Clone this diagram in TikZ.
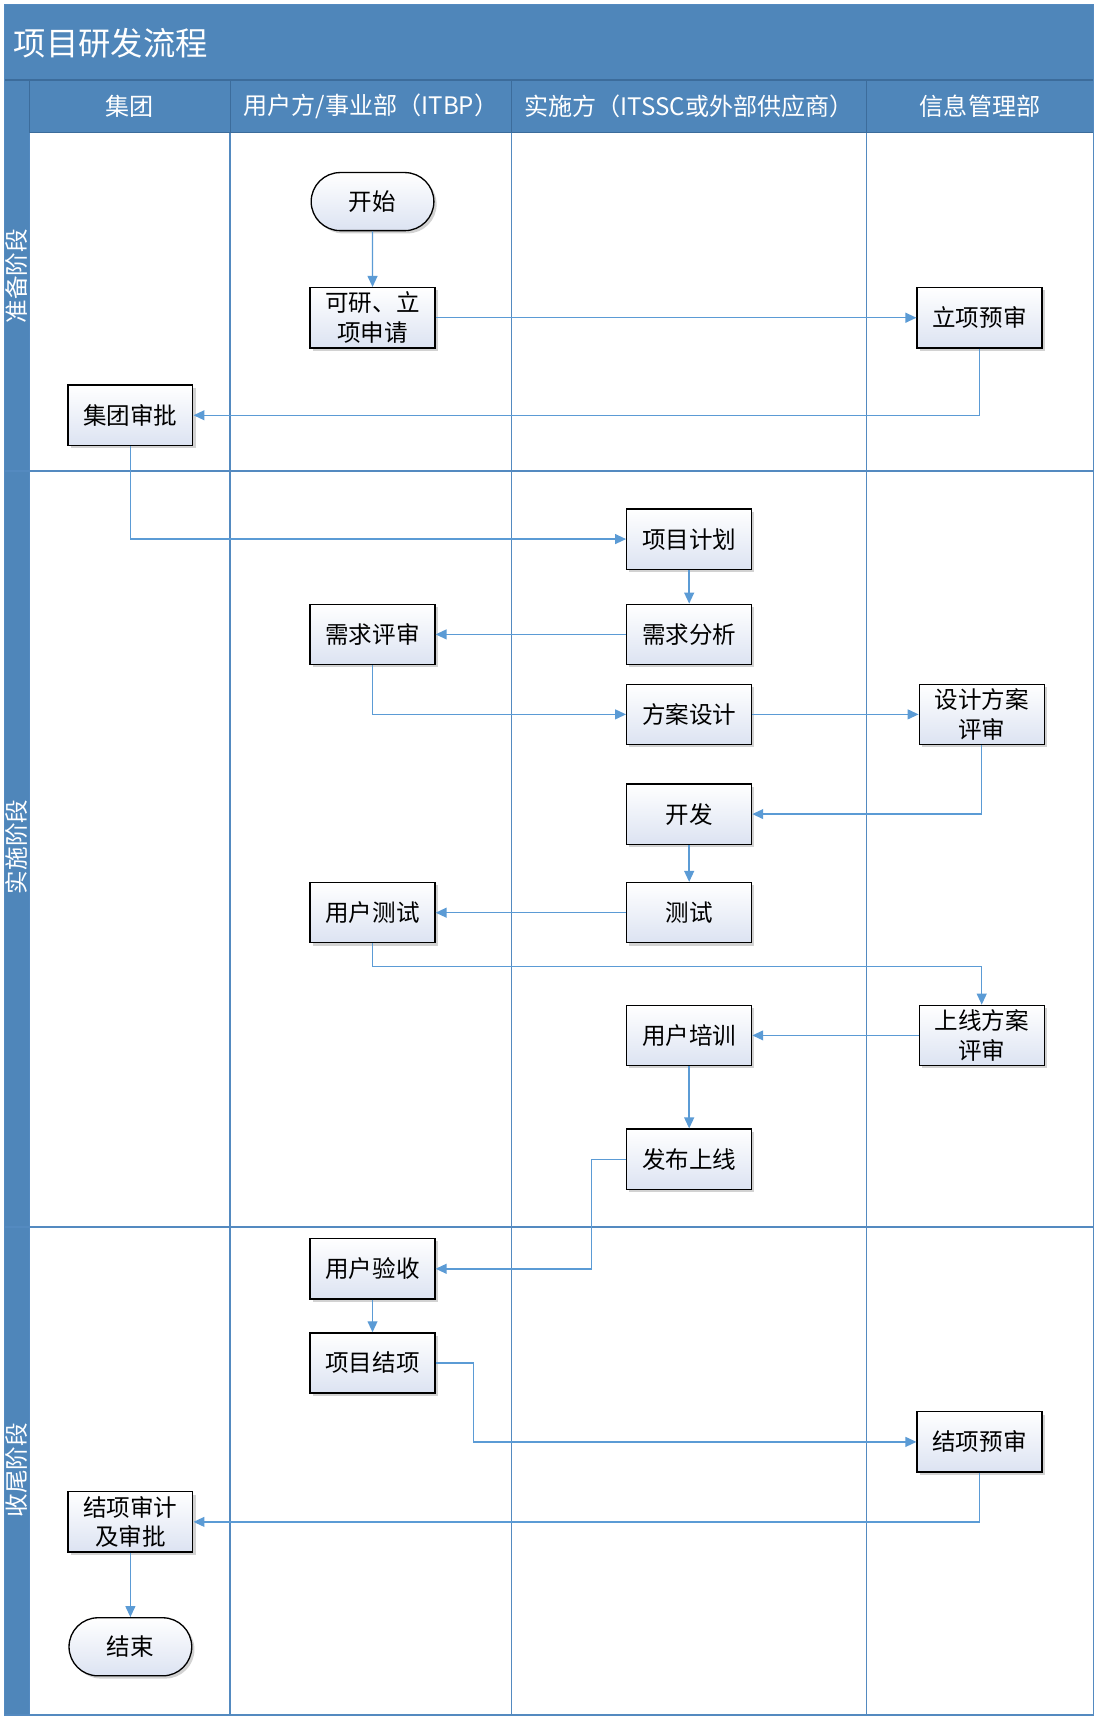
\documentclass[tikz,border=0pt]{standalone}
\usepackage{fontspec}
\setmainfont{Noto Sans CJK SC}
\usetikzlibrary{arrows.meta,shadows,shapes.misc}
\definecolor{hdr}{RGB}{79,134,186}
\definecolor{hdrline}{RGB}{60,108,155}
\definecolor{lane}{RGB}{84,138,192}
\definecolor{arr}{RGB}{91,155,213}
\definecolor{boxbot}{RGB}{220,227,242}
\begin{document}
\begin{tikzpicture}[x=1pt,y=-1pt,
  proc/.style={draw=black, line width=1.2pt, minimum width=114pt, minimum height=55pt,
    top color=white, bottom color=boxbot,
    drop shadow={opacity=0.35, shadow xshift=2.5pt, shadow yshift=-2.5pt},
    font=\fontsize{21.5}{27}\selectfont, align=center, inner sep=1pt, text=black},
  term/.style={proc, rounded rectangle, minimum height=53pt},
  flow/.style={draw=arr, line width=1.3pt, -{Triangle[length=10pt,width=9pt]}},
  hdrtext/.style={text=white, font=\fontsize{22}{26}\selectfont},
  phasetext/.style={text=white, rotate=90, font=\fontsize{21.5}{24}\selectfont},
  laneline/.style={draw=lane, line width=1.4pt},
  hdrsep/.style={draw=hdrline, line width=1pt}
]
\useasboundingbox (0,0) rectangle (1001,1568);
\fill[white] (0,0) rectangle (1001,1568);
% header areas
\fill[hdr] (4,4) rectangle (998,121);
\fill[hdr] (4,121) rectangle (27,1565);
\draw[hdrsep] (4,73) -- (998,73);
\foreach \x in {27,210,467,791} \draw[hdrsep] (\x,73) -- (\x,121);
\draw[hdrsep] (27,121) -- (998,121);
% lanes
\foreach \x in {27,210,467,791} \draw[laneline] (\x,121) -- (\x,1565);
\foreach \y in {430,1120} \draw[laneline] (4,\y) -- (998,\y);
\draw[lane, line width=1.6pt] (4,4) rectangle (998,1565);
% title and headers
\node[anchor=west, text=white, font=\fontsize{29.5}{32}\selectfont] (title) at (9,39) {项目研发流程};
\node[hdrtext] (h1) at (118.5,97) {集团};
\node[hdrtext] (h2) at (338.5,97) {用户方/事业部（ITBP）};
\node[hdrtext] (h3) at (629,97) {实施方（ITSSC或外部供应商）};
\node[hdrtext] (h4) at (894.5,97) {信息管理部};
\node[phasetext] (p1) at (15.5,252) {准备阶段};
\node[phasetext] (p2) at (15.5,773) {实施阶段};
\node[phasetext] (p3) at (15.5,1342) {收尾阶段};
% nodes
\node[term] (start) at (340,184) {开始};
\node[proc] (kyan) at (340,290) {可研、立\\项申请};
\node[proc] (lxys) at (894,290) {立项预审};
\node[proc] (jtsp) at (119,379) {集团审批};
\node[proc] (xmjh) at (629,492) {项目计划};
\node[proc] (xqfx) at (629,579) {需求分析};
\node[proc] (xqps) at (340,579) {需求评审};
\node[proc] (fasj) at (629,652) {方案设计};
\node[proc] (sjps) at (896,652) {设计方案\\评审};
\node[proc] (kf) at (629,743) {开发};
\node[proc] (cs) at (629,833) {测试};
\node[proc] (yhcs) at (340,833) {用户测试};
\node[proc] (sxps) at (896,945) {上线方案\\评审};
\node[proc] (yhpx) at (629,945) {用户培训};
\node[proc] (fbsx) at (629,1058) {发布上线};
\node[proc] (yhys) at (340,1158) {用户验收};
\node[proc] (xmjx) at (340,1244) {项目结项};
\node[proc] (jxys) at (894,1316) {结项预审};
\node[proc] (jxsj) at (119,1389) {结项审计\\及审批};
\node[term] (end) at (119,1503) {结束};
% helper coordinates
\coordinate (c12) at (600,882);
\coordinate (c15) at (540,1100);
\coordinate (c17) at (432,1280);
% connectors
\draw[flow] (start) -- (kyan);
\draw[flow] (kyan) -- (lxys);
\draw[flow] (lxys.south) |- (jtsp.east);
\draw[flow] (jtsp.south) |- (xmjh.west);
\draw[flow] (xmjh) -- (xqfx);
\draw[flow] (xqfx) -- (xqps);
\draw[flow] (xqps.south) |- (fasj.west);
\draw[flow] (fasj) -- (sjps);
\draw[flow] (sjps.south) |- (kf.east);
\draw[flow] (kf) -- (cs);
\draw[flow] (cs) -- (yhcs);
\draw[flow] (yhcs.south) |- (c12) -| (sxps.north);
\draw[flow] (sxps) -- (yhpx);
\draw[flow] (yhpx) -- (fbsx);
\draw[flow] (fbsx.west) -| (c15) |- (yhys.east);
\draw[flow] (yhys) -- (xmjx);
\draw[flow] (xmjx.east) -| (c17) |- (jxys.west);
\draw[flow] (jxys.south) |- (jxsj.east);
\draw[flow] (jxsj) -- (end);
\end{tikzpicture}
\end{document}
